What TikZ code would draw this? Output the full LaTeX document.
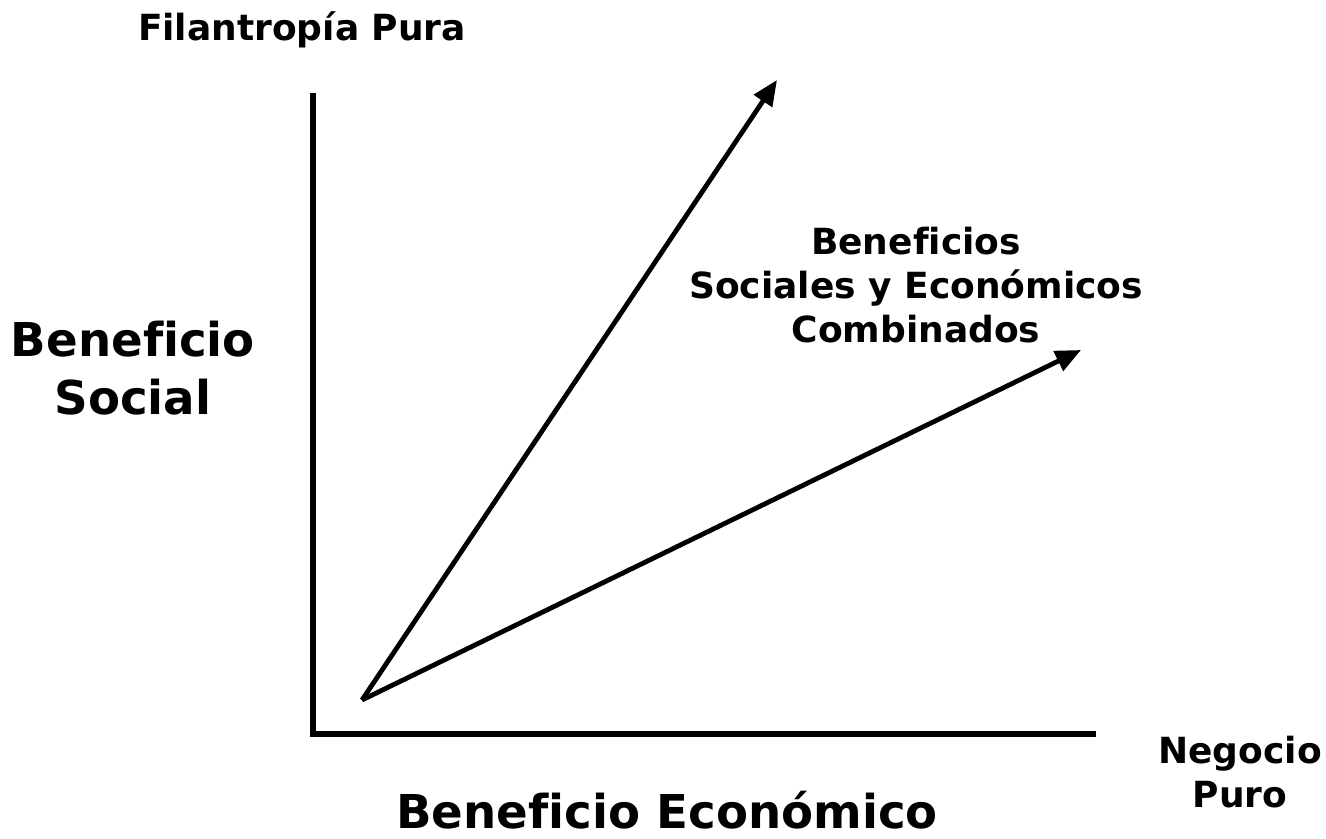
\documentclass[tikz,border=0pt]{standalone}
\usepackage{fontspec}
\setmainfont[Ligatures=NoCommon]{DejaVu Sans}
\usetikzlibrary{arrows.meta}

\begin{document}
\begin{tikzpicture}[x=0.75pt,y=0.75pt,yscale=-1,xscale=1,
  eje/.style={line width=5pt,line cap=rect},
  flecha/.style={line width=3.6pt,-{Triangle[length=19pt,width=16pt]}},
  chico/.style={font=\bfseries\fontsize{27}{33}\selectfont,align=center,inner sep=0pt},
  grande/.style={font=\bfseries\fontsize{35}{43.5}\selectfont,align=center,inner sep=0pt}]
        \useasboundingbox (0,0) rectangle (1326,838);
        % ejes
        \coordinate (ytop) at (313,96);
        \coordinate (org) at (313,734);
        \coordinate (xend) at (1093,734);
        \draw [eje] (ytop) -- (org) -- (xend);
        % flechas
        \coordinate (ini) at (362,700);
        \coordinate (filan) at (777,80);
        \coordinate (comb) at (1081,350);
        \draw [flecha] (ini) -- (filan);
        \draw [flecha] (ini) -- (comb);
        % textos
        \node [chico] (tfilan) at (302,30) {Filantrop\'ia Pura};
        \node [grande] (tsocial) at (133,368) {Beneficio\\Social};
        \node [chico] (tcomb) at (916,285) {Beneficios\\Sociales y Econ\'omicos\\Combinados};
        \node [chico] (tneg) at (1240,772) {Negocio\\Puro};
        \node [grande] (tecon) at (667,810) {Beneficio Econ\'omico};
\end{tikzpicture}
\end{document}
